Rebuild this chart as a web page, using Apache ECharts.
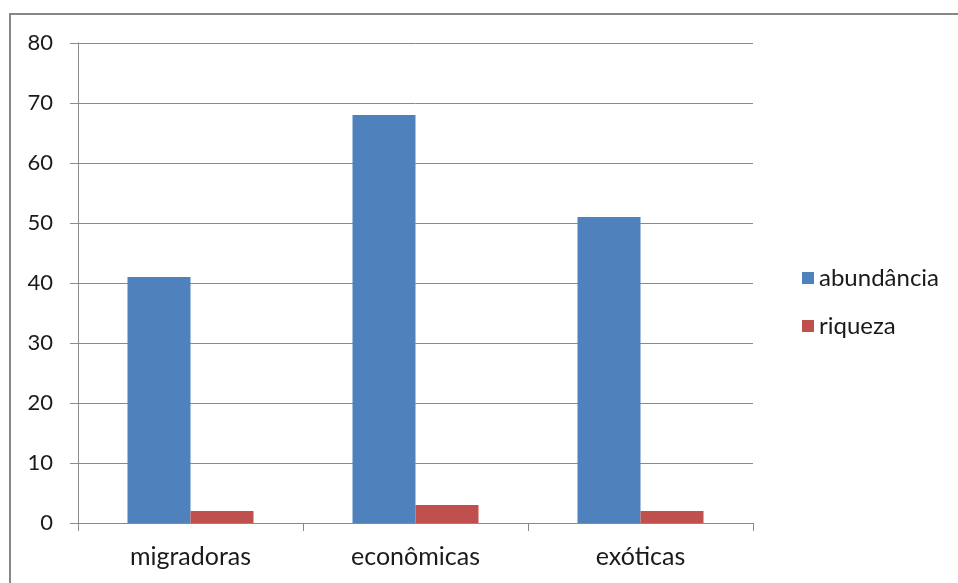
<!DOCTYPE html>
<html>
<head>
<meta charset="utf-8">
<script src="https://cdn.jsdelivr.net/npm/echarts@6/dist/echarts.min.js"></script>
<style>
  html, body { margin: 0; padding: 0; background: #fff; }
  #chart { width: 958px; height: 583px; }
</style>
</head>
<body>
<div id="chart"></div>
<script>
// Categories and series values
const categories = ['migradoras', 'econômicas', 'exóticas'];
const abundancia = [41, 68, 51];
const riqueza = [2, 3, 2];
const yTicks = { min: 0, max: 80, interval: 10 };

const chart = echarts.init(document.getElementById('chart'), null, { renderer: 'canvas' });
const font = 'Lato, Liberation Sans, Arial, sans-serif';
const gridColor = '#8a8a8a';
const textColor = '#1a1a1a';

chart.setOption({
  animation: false,
  backgroundColor: '#ffffff',
  graphic: [{
    type: 'rect',
    shape: { x: 10, y: 14, width: 960, height: 600 },
    style: { fill: 'none', stroke: '#878787', lineWidth: 2 },
    silent: true
  }],
  grid: { left: 78, right: 205, top: 43, bottom: 60, containLabel: false },
  legend: {
    orient: 'vertical',
    left: 797,
    top: 261,
    itemWidth: 12,
    itemHeight: 12,
    itemGap: 24,
    icon: 'rect',
    textStyle: { fontFamily: font, fontSize: 24, color: textColor },
    data: ['abundância', 'riqueza']
  },
  xAxis: {
    type: 'category',
    data: categories,
    axisLine: { lineStyle: { color: gridColor, width: 1 } },
    axisTick: { show: true, length: 8, lineStyle: { color: gridColor } },
    axisLabel: { fontFamily: font, fontSize: 25, color: textColor, margin: 21 }
  },
  yAxis: {
    type: 'value',
    min: yTicks.min,
    max: yTicks.max,
    interval: yTicks.interval,
    axisLine: { show: true, lineStyle: { color: gridColor, width: 1 } },
    axisTick: { show: true, length: 8, lineStyle: { color: gridColor } },
    splitLine: { show: true, lineStyle: { color: gridColor, width: 1 } },
    axisLabel: { fontFamily: font, fontSize: 22, color: textColor, margin: 25 }
  },
  series: [
    {
      name: 'abundância',
      type: 'bar',
      data: abundancia,
      barGap: '0%',
      barCategoryGap: '44%',
      itemStyle: { color: '#4f81bd' }
    },
    {
      name: 'riqueza',
      type: 'bar',
      data: riqueza,
      barGap: '0%',
      barCategoryGap: '44%',
      itemStyle: { color: '#c0504d' }
    }
  ]
});
</script>
</body>
</html>
